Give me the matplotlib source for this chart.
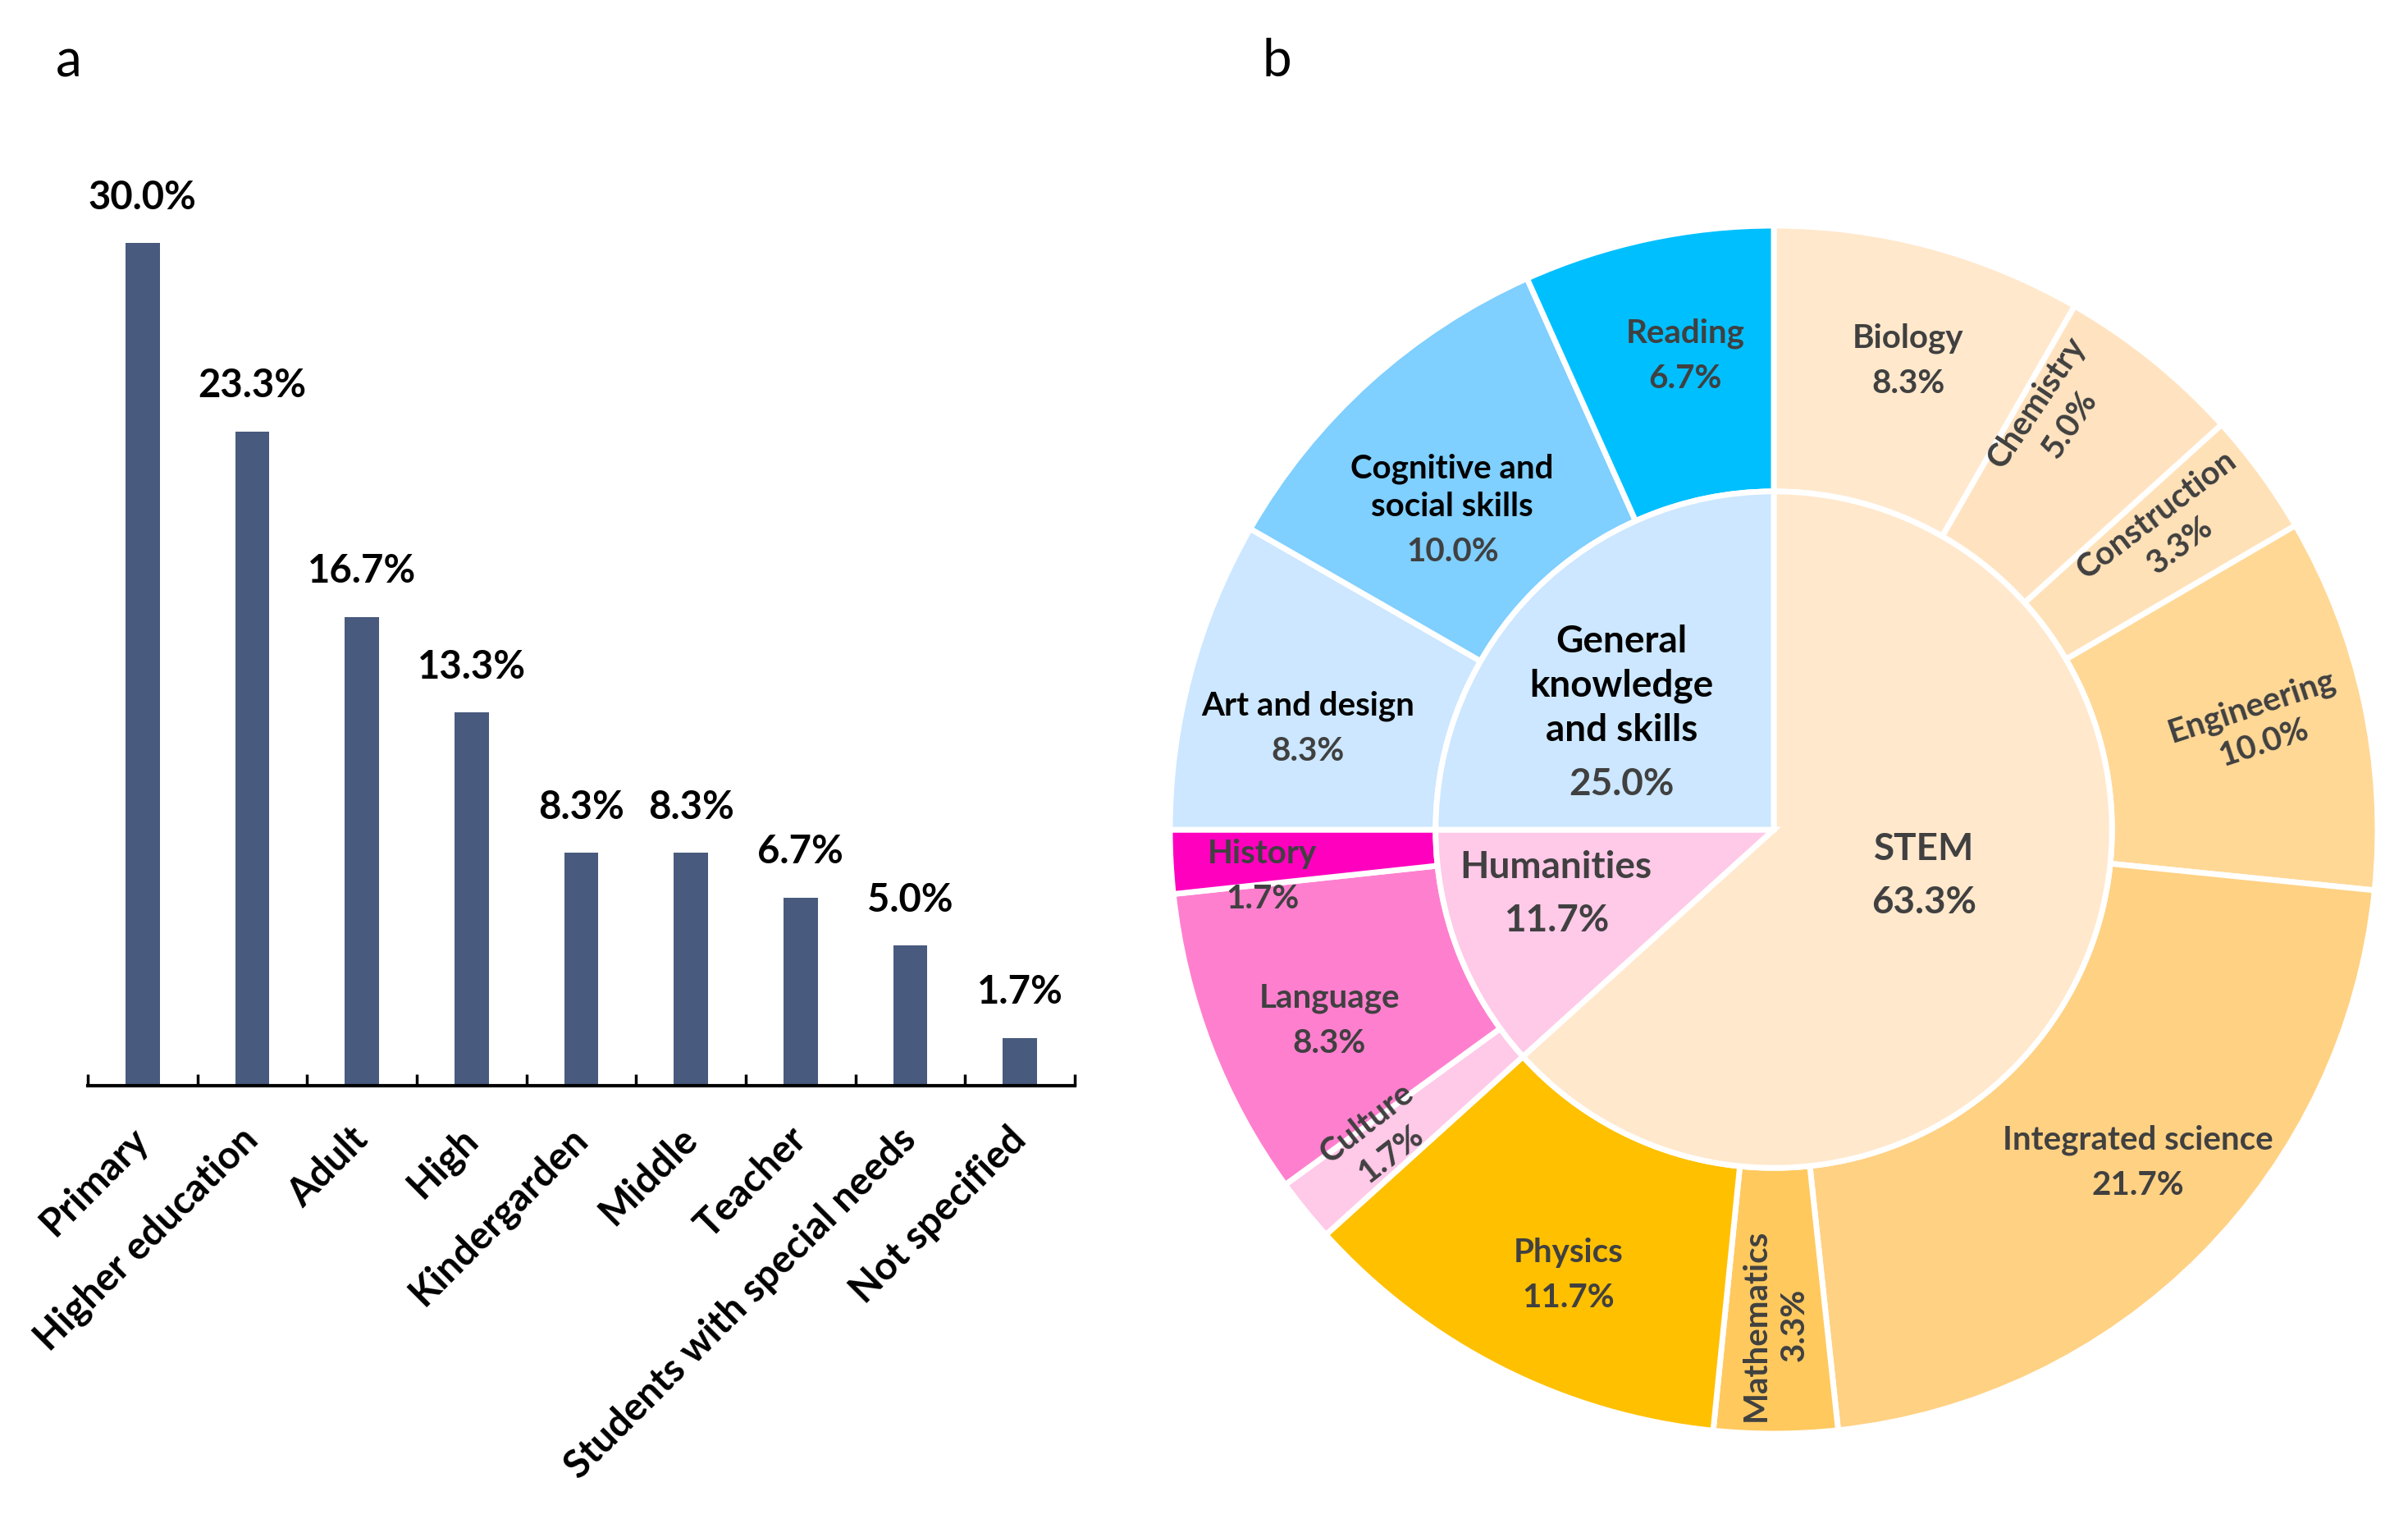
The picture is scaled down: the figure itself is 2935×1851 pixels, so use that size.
import matplotlib
matplotlib.use("Agg")
import matplotlib.pyplot as plt
import numpy as np

plt.rcParams['font.family'] = ['Lato', 'DejaVu Sans']

# ---- panel a data ----
levels = ["Primary", "Higher education", "Adult", "High", "Kindergarden",
          "Middle", "Teacher", "Students with special needs", "Not specified"]
level_pct = [30.0, 23.3, 16.7, 13.3, 8.3, 8.3, 6.7, 5.0, 1.7]

# ---- panel b data ----
groups = ["STEM", "Humanities", "General\nknowledge\nand skills"]
group_pct = [63.3, 11.7, 25.0]
group_colors = ["#FFE8CC", "#FFC9E8", "#CCE7FF"]

subjects = ["Biology", "Chemistry", "Construction", "Engineering",
            "Integrated science", "Mathematics", "Physics",
            "Culture", "Language", "History",
            "Art and design", "Cognitive and\nsocial skills", "Reading"]
subject_pct = [8.3, 5.0, 3.3, 10.0, 21.7, 3.3, 11.7,
               1.7, 8.3, 1.7,
               8.3, 10.0, 6.7]
subject_colors = ["#FFE8CC", "#FFE3C0", "#FFE1B8", "#FFD896", "#FFD183",
                  "#FFC95E", "#FFC000",
                  "#FFC9E8", "#FF7FCF", "#FF00BF",
                  "#CCE7FF", "#7FCFFF", "#00BFFF"]

# label styling (not data)
rotated = [False, True, True, True, False, True, False, True, False, False, False, False, False]
rot_dt = [0, 0, 0, 6, 0, 0, 0, 0, 0, 0, 0, 0, 0]
lab_r = [0.81, 0.83, 0.82, 0.82, 0.815, 0.82, 0.81, 0.83, 0.80, 0.85, 0.79, 0.73, 0.80]
lab_dt = [-1, 5, 1, 0, 2.5, 0, 2, -1, 2, 2, 2.5, 4.7, -1.5]
name_col = ["#404040"] * 10 + ["black", "black", "#404040"]
grp_r = [0.26, 0.375, 0.28]
grp_dt = [7.4, -5, 19]
grp_name_col = ["#404040", "#404040", "black"]

GRAY = "#404040"
BAR = "#485A7E"

fig = plt.figure(figsize=(29.35, 18.51), dpi=100)

# ---------------- panel a ----------------
ax = fig.add_axes([107 / 2935, 1 - 1323 / 1851, 1203 / 2935, 1095 / 1851])
x = np.arange(len(levels))
bars = ax.bar(x, level_pct, width=0.31, color=BAR, zorder=2)
for b, v in zip(bars, level_pct):
    ax.annotate(f"{v:.1f}%", (b.get_x() + b.get_width() / 2, v), xytext=(0, 24),
                textcoords="offset points", ha="center", va="bottom",
                fontsize=34, fontweight="bold", color="black")
ax.set_xlim(-0.5, len(levels) - 0.5)
ax.set_ylim(0, 32)
for s in ["left", "top", "right"]:
    ax.spines[s].set_visible(False)
ax.spines["bottom"].set_linewidth(3)
ax.set_yticks([])
ax.set_xticks(x)
ax.set_xticklabels(levels, rotation=45, ha="right", va="center",
                   rotation_mode="anchor", fontsize=34, fontweight="bold")
ax.set_xticks(np.arange(-0.5, len(levels)), minor=True)
ax.tick_params(axis="x", which="major", length=0, pad=42)
ax.tick_params(axis="x", which="minor", direction="in", length=10, width=2.5)

fig.text(84 / 2935, 1 - 75 / 1851, "a", fontsize=46, ha="center", va="center")
fig.text(1556 / 2935, 1 - 75 / 1851, "b", fontsize=46, ha="center", va="center")

# ---------------- panel b ----------------
R_IN = 0.56
axp = fig.add_axes([(2162 - 736) / 2935, (1851 - 1011 - 736) / 1851,
                    1472 / 2935, 1472 / 1851])
w_out, _ = axp.pie(subject_pct, radius=1, startangle=90, counterclock=False,
                   colors=subject_colors,
                   wedgeprops=dict(width=1 - R_IN, edgecolor="white", linewidth=5))
w_in, _ = axp.pie(group_pct, radius=R_IN, startangle=90, counterclock=False,
                  colors=group_colors,
                  wedgeprops=dict(edgecolor="white", linewidth=5))
axp.set_xlim(-1, 1)
axp.set_ylim(-1, 1)


def two_line(axh, xy, name, pct, ncol, size, up, down, ls):
    axh.annotate(name, xy, xytext=(0, up), textcoords="offset points",
                 ha="center", va="bottom", fontsize=size, fontweight="bold",
                 color=ncol, linespacing=ls)
    axh.annotate(pct, xy, xytext=(0, -down), textcoords="offset points",
                 ha="center", va="top", fontsize=size, fontweight="bold", color=GRAY)


for w, name, v, rot, rd, r, dt, nc in zip(w_out, subjects, subject_pct, rotated, rot_dt,
                                          lab_r, lab_dt, name_col):
    th = (w.theta1 + w.theta2) / 2 + dt
    px, py = r * np.cos(np.radians(th)), r * np.sin(np.radians(th))
    if rot:
        ang = th + rd
        if ang > 90:
            ang -= 180
        if ang < -90:
            ang += 180
        if abs(ang + 90) < 1:
            ang = 90
        axp.text(px, py, f"{name}\n{v:.1f}%", rotation=ang, rotation_mode="anchor",
                 ha="center", va="center", multialignment="center",
                 fontsize=29, fontweight="bold", color=GRAY, linespacing=1.35)
    else:
        two_line(axp, (px, py), name, f"{v:.1f}%", nc, 29, 5, 8, 1.3)

for w, name, v, r, dt, nc in zip(w_in, groups, group_pct, grp_r, grp_dt, grp_name_col):
    th = (w.theta1 + w.theta2) / 2 + dt
    px, py = r * np.cos(np.radians(th)), r * np.sin(np.radians(th))
    two_line(axp, (px, py), name, f"{v:.1f}%", nc, 33, 7, 10, 1.35)

fig.savefig("out.png", dpi=100, facecolor="white")
